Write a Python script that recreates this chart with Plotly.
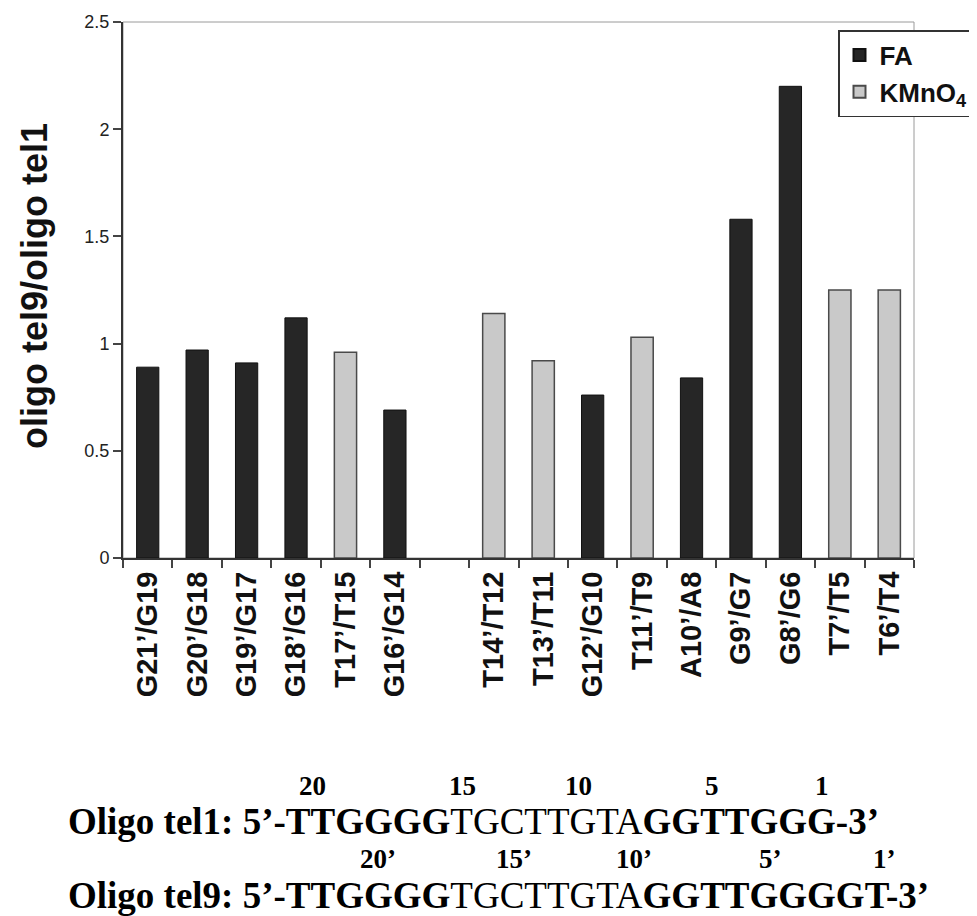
import plotly.graph_objects as go

# ---- data ----
categories = ["G21’/G19", "G20’/G18", "G19’/G17", "G18’/G16", "T17’/T15", "G16’/G14", " ",
              "T14’/T12", "T13’/T11", "G12’/G10", "T11’/T9", "A10’/A8", "G9’/G7", "G8’/G6",
              "T7’/T5", "T6’/T4"]
fa_values = [0.89, 0.97, 0.91, 1.12, None, 0.69, None,
             None, None, 0.76, None, 0.84, 1.58, 2.20, None, None]
kmno4_values = [None, None, None, None, 0.96, None, None,
                1.14, 0.92, None, 1.03, None, None, None, 1.25, 1.25]
y_ticks = [0, 0.5, 1, 1.5, 2, 2.5]
y_ticktext = ["0", "0.5", "1", "1.5", "2", "2.5"]

# ---- layout geometry (page has an 8px body margin) ----
OFF = 8
W, H = 977, 916
L, R, T, B = 115, 71, 14, 366
pw, ph = W - L - R, H - T - B


def px_x(sx):
    return (sx - OFF - L) / pw


def px_y(sy):
    return (H - B - (sy - OFF)) / ph


fig = go.Figure()
fig.add_trace(go.Bar(x=categories, y=fa_values, name="FA",
                     marker=dict(color="#262626", line=dict(color="#111111", width=1))))
fig.add_trace(go.Bar(x=categories, y=kmno4_values, name="KMnO<sub>4</sub>",
                     marker=dict(color="#c9c9c9", line=dict(color="#4a4a4a", width=1.5))))

fig.update_layout(
    width=W, height=H,
    margin=dict(l=L, r=R, t=T, b=B, autoexpand=False),
    plot_bgcolor="white", paper_bgcolor="white",
    barmode="overlay", bargap=0.55,
    font=dict(family="Liberation Sans, Arial, sans-serif", color="#1a1a1a"),
    showlegend=True,
    legend=dict(x=px_x(838), y=px_y(30), xanchor="left", yanchor="top",
                bgcolor="white", bordercolor="#333333", borderwidth=1.5,
                font=dict(size=26, weight="bold", color="#111111"),
                tracegroupgap=0, itemsizing="constant"),
)

fig.update_xaxes(
    type="category", categoryorder="array", categoryarray=categories,
    showline=True, linecolor="#333333", linewidth=2,
    ticks="outside", ticklen=8, tickcolor="#444444", tickwidth=1.5,
    tickson="boundaries", tickangle=-90,
    tickfont=dict(size=29, weight="bold", color="#111111"),
    showgrid=False, zeroline=False, automargin=False,
)
fig.update_yaxes(
    range=[0, 2.5], tickvals=y_ticks, ticktext=y_ticktext,
    showline=True, linecolor="#333333", linewidth=2,
    ticks="outside", ticklen=8, tickcolor="#444444", tickwidth=1.5,
    tickfont=dict(size=18, color="#222222"),
    showgrid=False, zeroline=False, automargin=False,
)

# light plot frame
fig.add_shape(type="rect", xref="paper", yref="paper", x0=0, x1=1, y0=0, y1=1,
              line=dict(color="#9a9a9a", width=1), layer="below")

# y-axis title
fig.add_annotation(text="<b>oligo tel9/oligo tel1</b>", textangle=-90,
                   xref="paper", yref="paper", x=px_x(34), y=px_y(286),
                   xanchor="center", yanchor="middle", showarrow=False,
                   font=dict(size=36, color="#111111"))

# sequence lines
serif = "Liberation Serif, Times New Roman, serif"
fig.add_annotation(text="<b>Oligo tel1: 5’-TTGGGG</b>TGCTTGTA<b>GGTTGGG-3’</b>",
                   xref="paper", yref="paper", x=px_x(66), y=px_y(821),
                   xanchor="left", yanchor="middle", showarrow=False,
                   font=dict(family=serif, size=37, color="#000000"))
fig.add_annotation(text="<b>Oligo tel9: 5’-TTGGGG</b>TGCTTGTA<b>GGTTGGGGT-3’</b>",
                   xref="paper", yref="paper", x=px_x(66), y=px_y(895),
                   xanchor="left", yanchor="middle", showarrow=False,
                   font=dict(family=serif, size=37, color="#000000"))

num1 = ["20", "15", "10", "5", "1"]
num1_x = [312, 462, 578, 712, 822]
num2 = ["20’", "15’", "10’", "5’", "1’"]
num2_x = [378, 514, 634, 770, 884]
for t, xx in zip(num1, num1_x):
    fig.add_annotation(text="<b>" + t + "</b>", xref="paper", yref="paper",
                       x=px_x(xx), y=px_y(786), xanchor="center", yanchor="middle",
                       showarrow=False, font=dict(family=serif, size=27, color="#000000"))
for t, xx in zip(num2, num2_x):
    fig.add_annotation(text="<b>" + t + "</b>", xref="paper", yref="paper",
                       x=px_x(xx), y=px_y(859), xanchor="center", yanchor="middle",
                       showarrow=False, font=dict(family=serif, size=27, color="#000000"))

fig.write_html("out.html")
